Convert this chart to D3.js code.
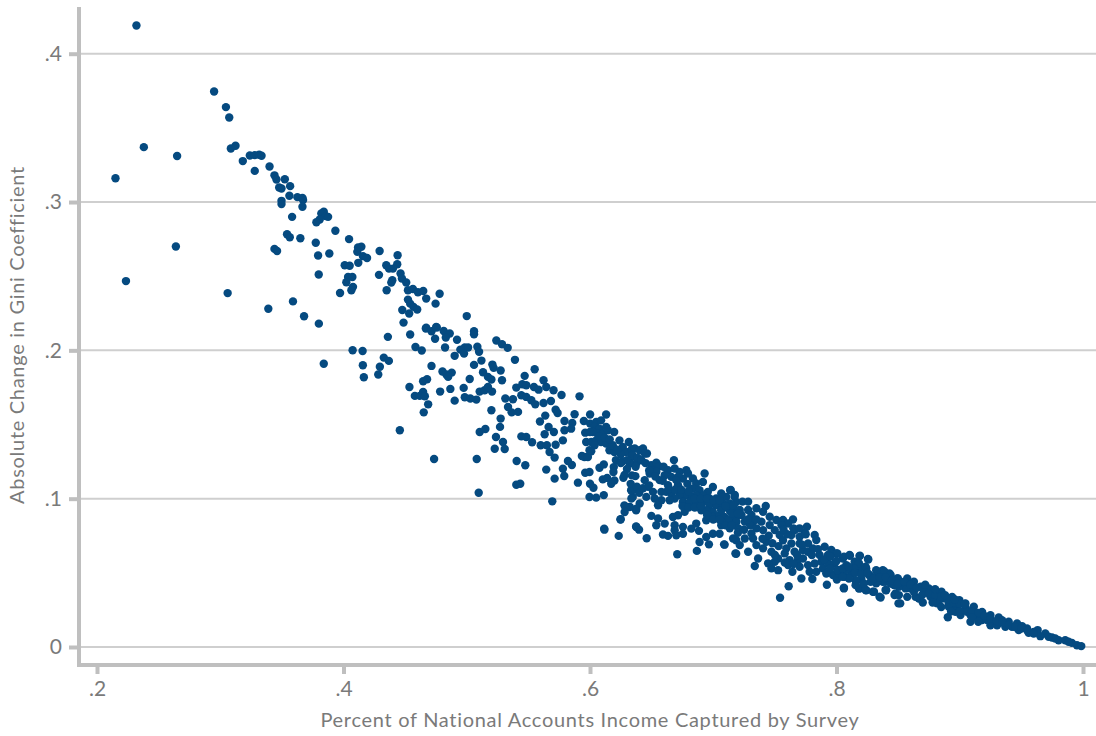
<!DOCTYPE html>
<html lang="en">
<head>
<meta charset="UTF-8">
<title>Gini change by survey coverage</title>
<script src="https://d3js.org/d3.v7.min.js"></script>
<style>
    body { margin: 0; background: #fff; font-family: Lato, "Open Sans", sans-serif; }
    svg { display: block; }
    .tick text { fill: #7a7a7a; font-size: 21px; font-family: Lato, "Open Sans", sans-serif; }
    .axis-label { fill: #7a7a7a; font-size: 20px; letter-spacing: 0.7px; }
</style>
</head>
<body>
<div id="chart"></div>
<script>
// tick labels
const xTicks = [0.2, 0.4, 0.6, 0.8, 1];
const yTicks = [0, 0.1, 0.2, 0.3, 0.4];
const xTitle = "Percent of National Accounts Income Captured by Survey";
const yTitle = "Absolute Change in Gini Coefficient";

// [share of national income captured by survey, absolute change in gini]
const points = [
[.232,.419],[.295,.3745],[.3046,.364],[.3073,.357],[.238,.337],[.265,.331],[.215,.316],[.264,.27],[.2235,.2467],[.306,.2386],
[.339,.228],[.359,.233],[.368,.223],[.38,.218],[.384,.191],
[.3086,.3361],[.3124,.3379],[.3183,.3276],[.324,.3314],[.328,.3316],[.3316,.3319],[.3335,.3312],[.328,.321],[.34,.324],[.344,.318],
[.3456,.3152],[.3524,.3154],[.3478,.3098],[.3497,.3091],[.3567,.3107],[.3561,.3042],[.3626,.3033],[.3667,.3028],[.3672,.3013],[.3497,.3008],
[.3497,.2986],[.3667,.2968],[.3583,.29],[.384,.2934],[.382,.2923],[.3856,.2905],[.3875,.29],[.3807,.2882],[.378,.2864],[.3934,.2806],
[.4045,.275],[.3542,.2783],[.3564,.2763],[.365,.2756],[.3775,.2725],[.344,.2684],[.3461,.267],[.3794,.2639],[.3885,.2653],[.4118,.2693],
[.4145,.2698],[.4112,.2664],[.4158,.2635],[.4191,.2623],[.412,.259],[.401,.2574],[.405,.257],[.4293,.267],[.4439,.2641],[.4347,.2574],
[.4369,.2551],[.4401,.2551],[.4436,.258],[.4288,.2509],[.4463,.2518],[.4474,.2484],[.4509,.2457],[.3799,.2511],[.4037,.2495],[.4072,.2495],
[.4023,.2459],[.4396,.2473],[.4388,.2457],[.4077,.2428],[.4064,.2405],[.3972,.2387],[.435,.2405],[.4523,.2405],[.4563,.2414],[.4604,.2392],
[.4647,.24],[.4671,.2349],[.4523,.2342],[.4541,.2315],[.4568,.2293],[.4598,.2275],[.4477,.2272],[.4533,.2248],[.4487,.2187],[.4747,.2315],
[.478,.2382],[.4671,.2153],[.4752,.2158],
[.5,.2231],[.5059,.2129],[.5059,.2109],[.4668,.2147],[.4714,.2129],[.4757,.2154],[.4813,.2131],[.4862,.2114],[.483,.2087],[.4743,.2078],
[.436,.2091],[.4541,.2107],[.4921,.2071],[.4584,.2023],[.4635,.1999],[.4824,.2019],[.4984,.2019],[.5011,.2019],[.4948,.2005],[.4978,.1978],
[.4902,.1963],[.5086,.2024],[.51,.199],[.524,.2066],[.5286,.2041],[.5332,.2017],[.5391,.1936],[.5119,.1931],[.5059,.1902],[.5208,.1904],
[.5218,.1882],[.5275,.1864],[.5132,.1852],[.5172,.1821],[.52,.1803],[.5286,.1798],[.4074,.2001],[.4155,.1996],[.4327,.1951],[.4368,.1929],
[.4157,.19],[.4295,.1889],[.4282,.1837],[.4165,.1819],[.4714,.1895],[.4803,.1857],[.4835,.1837],[.4878,.185],[.4849,.1821],[.5024,.1807],
[.4678,.1805],[.4646,.1792],[.4535,.1753],[.4784,.1722],[.4867,.174],[.4975,.1747],[.4646,.172],[.4579,.1693],[.4619,.1693],[.466,.1691],
[.4687,.1636],[.4651,.1582],[.4902,.1661],[.4984,.1684],[.5029,.1675],[.5078,.1668],[.5105,.1722],[.5145,.1731],[.5205,.1722],[.5172,.1753],
[.547,.1828],[.5402,.1749],[.5451,.1771],[.5483,.1765],[.5551,.1873],[.5623,.1798],[.5545,.1753],[.5583,.1735],[.5645,.1753],[.5704,.1731],
[.5769,.1699],[.5915,.169],[.5443,.1697],[.5483,.1686],[.5524,.1664],[.5556,.1636],[.5623,.1645],[.5683,.1659],[.5313,.1675],[.5375,.167],
[.5335,.1618],[.5364,.1582],[.5416,.1585],[.52,.1596],[.5721,.16],[.5737,.1578],[.5637,.156],[.5594,.152],[.5275,.154],[.527,.1484],
[.5875,.1569],[.5793,.1524],[.5856,.151],[.595,.1524],[.6001,.1567],[.6131,.1567],[.5664,.1483],[.5707,.145],[.5632,.1434],[.5793,.1461],
[.5847,.1472],[.5105,.145],[.5151,.147],[.5237,.1416],[.5294,.1382],[.5308,.1335],[.5227,.1337],[.5443,.142],[.5483,.1416],[.553,.138],
[.56,.136],[.565,.136],[.5721,.1364],[.578,.1393],[.5672,.1315],[.5713,.1277],[.4457,.1461],[.4735,.1267],[.5081,.1267],[.5405,.1254],
[.5475,.1225],[.5645,.1196],[.5821,.1254],[.5853,.1227],[.578,.1202],[.5791,.1153],[.5713,.1135],[.5402,.1094],[.5434,.1101],[.5097,.104],
[.5694,.0982],[.5961,.1175],[.5996,.118],[.5902,.1108],[.6,.1101],[.6028,.1074],[.5996,.1011],[.605,.1007],[.6112,.1024],[.6077,.1209],
[.6112,.1231],[.6193,.1213],[.619,.118],[.6104,.113],[.6139,.114],[.6198,.1123],[.6172,.1101],[.6271,.1141],[.6263,.1252],[.5955,.1281],
[.5934,.1288],[.5983,.1281],[.601,.1319],
[.5961,.1445],[.6001,.1506],[.605,.1517],[.609,.1528],[.6037,.1484],[.6077,.1472],[.6131,.1484],[.6063,.1439],[.6023,.145],[.6104,.1439],
[.6145,.1461],[.6196,.145],[.5969,.1382],[.601,.1382],[.605,.1393],[.609,.1382],[.6131,.1371],[.6037,.136],[.5996,.1326],[.6158,.1326],
[.6198,.1315],[.6185,.136],[.6239,.1393],[.6315,.1382],[.6266,.1348],[.6293,.1315],[.634,.1333],[.634,.1281],[.6374,.1236],[.634,.1157],
[.6334,.1056],[.6347,.1011],[.6279,.0955],[.632,.0943],[.6374,.0921],[.6247,.086],[.6115,.0797],[.6374,.0813],
[.6681,.126],[.643,.1338],[.6462,.1305],[.6363,.1338],[.6403,.1327],[.6344,.1293],[.6384,.1277],[.6417,.1259],[.6322,.1237],[.637,.1215],
[.6368,.1152],[.6444,.1305],[.6497,.1226],[.6538,.1242],[.656,.1219],[.6511,.1192],[.6484,.117],[.6538,.1181],[.6597,.1215],[.6633,.1192],
[.6687,.1203],[.6727,.1181],[.6781,.1192],[.6795,.117],[.6754,.1136],[.6714,.1147],[.666,.1147],[.6606,.1158],[.6565,.1125],[.6444,.1125],
[.6471,.108],[.6511,.1046],[.6579,.1046],[.6619,.1046],[.666,.1035],[.6714,.1091],[.67,.1125],[.6633,.1091],[.6835,.1136],[.6862,.1102],
[.6835,.1068],[.6889,.1057],[.693,.117],[.6916,.1113],[.6997,.1079],[.6956,.1046],[.7065,.1035],[.7137,.1057],[.7173,.1012],[.7105,.1012],
[.7024,.1001],[.697,.1001],[.6916,.1023],[.6862,.1023],[.6808,.1023],[.6768,.1023],[.6727,.1023],[.6687,.1001],[.6646,.0989],[.6579,.0989],
[.6754,.0978],[.6808,.0978],[.6862,.0967],[.6916,.0978],[.697,.0956],[.7024,.0956],[.7078,.0967],[.7132,.0967],[.7186,.0978],[.7186,.0922],
[.7132,.0922],[.7065,.0922],[.6997,.0911],[.6943,.0922],[.6903,.0922],[.6768,.0911],[.6714,.0888],[.6673,.0877],[.6457,.1012],[.6525,.1001],
[.6552,.0956],[.6403,.0967],[.6376,.0933],[.6322,.0945],[.6287,.0945],[.6281,.091],[.6498,.0884],[.6552,.0866],[.6606,.0832],[.6538,.0821],
[.6687,.0821],[.6754,.081],[.6687,.0787],[.6592,.0758],[.6633,.0749],[.67,.0753],[.6754,.0764],[.6822,.0798],[.6862,.0832],[.6943,.0854],
[.6997,.0877],[.7051,.0888],[.7091,.0877],[.7146,.0854],[.7186,.0877],[.7065,.0821],[.7051,.0764],[.6997,.0764],[.6943,.0742],[.6884,.0783],
[.6889,.0708],[.6965,.0692],[.7092,.069],[.7186,.072],[.7186,.0629],[.6867,.0648],[.6708,.0625],[.646,.0733],[.6376,.0809],[.6398,.0791],
[.6233,.0749],[.6117,.0791],[.6249,.0861],[.6336,.1057],[.6363,.1062],[.6336,.1001],
[.7142,.1059],[.7175,.1025],[.7237,.098],[.7283,.098],[.708,.1014],[.7107,.0946],[.7067,.0923],[.7161,.0957],[.7215,.0924],[.7283,.0924],
[.735,.0935],[.7426,.0951],[.7404,.0912],[.7458,.0878],[.7161,.089],[.7229,.089],[.731,.089],[.7323,.0845],[.7256,.0845],[.7188,.0845],
[.712,.0856],[.7067,.0845],[.7134,.08],[.7202,.08],[.7391,.0845],[.7404,.0788],[.7458,.0822],[.7512,.0856],[.7566,.0856],[.7647,.086],
[.7607,.0833],[.7553,.0822],[.7499,.0788],[.7539,.0755],[.7566,.072],[.7661,.0788],[.776,.0811],[.7742,.077],[.7701,.0743],[.7634,.0755],
[.7823,.0755],[.7836,.0721],[.7769,.0698],[.7701,.0698],[.7634,.0698],[.7593,.0665],[.758,.0631],[.766,.0642],[.7728,.0653],[.7769,.0642],
[.7809,.0665],[.7904,.0676],[.7958,.0654],[.7998,.0631],[.7931,.062],[.7863,.062],[.7877,.0575],[.7823,.0563],[.7769,.0552],[.7728,.0597],
[.7688,.0586],[.762,.0586],[.7607,.0552],[.7701,.0541],[.7642,.0507],[.7715,.0462],[.7804,.0458],[.7782,.0507],[.7836,.0507],[.789,.053],
[.7931,.0564],[.7985,.0564],[.8052,.0597],[.8106,.062],[.8187,.0613],[.8255,.0593],[.8147,.0575],[.808,.0552],[.8012,.0519],[.7971,.0485],
[.7917,.0496],[.8003,.0455],[.7922,.042],[.806,.0399],[.8111,.0298],[.8066,.0474],[.812,.0496],[.8187,.053],[.8241,.053],[.8268,.0485],
[.8201,.0462],[.816,.044],[.8187,.0395],[.8241,.0383],[.8295,.0372],[.8349,.0339],[.8322,.0429],[.8376,.044],[.8322,.0518],[.8376,.0518],
[.843,.0496],[.8403,.0383],[.8457,.0429],[.8471,.035],[.8503,.0294],[.8498,.0462],[.7088,.0692],[.718,.0631],[.7161,.0732],[.7256,.0732],
[.731,.0766],[.7323,.0732],[.7215,.0687],[.7283,.0642],[.735,.0687],[.7404,.0665],[.7431,.071],[.7472,.0642],[.7526,.0597],[.7499,.0575],
[.7445,.0564],[.7364,.0597],[.7337,.0546],[.7472,.053],[.7526,.0518],[.7612,.041],[.7542,.0332],
[.8007,.0631],[.8061,.0609],[.8109,.0615],[.819,.0615],[.8258,.059],[.8182,.0564],[.8236,.0541],[.8142,.053],[.8074,.0519],[.802,.0496],
[.8263,.0485],[.8331,.0507],[.839,.0507],[.8439,.0485],[.8493,.0462],[.8574,.0462],[.8628,.044],[.8331,.044],[.8398,.044],[.8466,.0417],
[.8547,.0417],[.8601,.0395],[.8682,.0406],[.8749,.0395],[.806,.0395],[.8182,.0395],[.8236,.0384],[.8304,.0372],[.8358,.0334],[.8398,.0384],
[.8479,.0361],[.8517,.0294],[.8641,.0338],[.8668,.0327],[.8709,.0372],[.8776,.035],[.8852,.0372],[.8816,.0294],[.8857,.0327],[.8938,.0338],
[.8911,.0294],[.8997,.0316],[.9046,.0294],[.8965,.0271],[.8903,.0201],[.9006,.0215],[.9087,.017],[.9114,.0271],[.906,.0237],[.9181,.0237],
[.9181,.0181],[.9249,.0215],[.9316,.0199],[.9249,.0147],[.9303,.0147],[.937,.0136],[.9397,.017],[.9465,.0158],[.9478,.0114],[.9546,.0125],
[.9559,.0096],[.9632,.0114],[.9694,.0091],[.9654,.0073],[.9748,.0064],[.9802,.0046],[.9856,.0046],[.991,.0028],[.9951,.0012],[.9986,.0006],
[.9883,.0035],[.9775,.0057],[.9721,.0069],[.96,.0102],[.9424,.0136],[.9222,.0181],[.9154,.0204],[.9087,.0215],[.8965,.0237],[.8911,.0271],
[.883,.0316],[.8763,.0338],[.8695,.035],[.8628,.0372],[.856,.0395],[.8506,.0406],[.8439,.0428],[.8385,.0462],[.8317,.0473],[.8277,.044],
[.8155,.0451],[.8101,.0462],[.8047,.0473],[.8007,.0519],[.8155,.0417],[.8223,.0428],[.8574,.0338],[.8506,.035],[.9343,.0181],[.9505,.0141],
// dense band, read from the solid mass
[.645,.124],[.648,.119],[.653,.115],[.659,.112],[.664,.1065],[.669,.106],[.674,.106],[.679,.11],[.68,.105],[.685,.1],
[.69,.1],[.695,.1],[.7,.099],[.705,.099],[.71,.095],[.715,.09],[.72,.09],[.675,.095],[.68,.094],[.685,.094],
[.69,.095],[.695,.089],[.7,.086],[.705,.086],[.71,.082],[.715,.082],[.72,.077],[.725,.079],[.73,.082],[.735,.08],
[.735,.086],[.728,.086],[.745,.075],[.74,.073],[.748,.07],[.753,.068],[.76,.076],[.757,.079],[.765,.08],[.77,.08],
[.775,.076],[.75,.062],[.758,.057],[.765,.056],[.768,.062],[.772,.069],[.78,.062],[.785,.066],[.79,.059],[.795,.061],
[.8,.058],[.795,.053],[.805,.053],[.81,.054],[.815,.05],[.82,.049],[.825,.05],[.83,.046],[.835,.047],[.84,.047],
[.845,.045],[.85,.043],[.855,.044],[.86,.042],[.865,.04],[.87,.04],[.875,.036],[.88,.035],[.885,.034],[.89,.032],
[.895,.03],[.9,.029],[.905,.026],[.91,.024],[.915,.023],[.92,.021],[.925,.019],[.93,.0175],[.935,.0165],[.94,.015],
[.945,.0135],[.95,.0125],[.955,.011],[.96,.009],[.872,.042],[.88,.039],[.888,.035],[.896,.032],[.904,.029],[.87,.03],
[.878,.03],[.885,.027],[.893,.024],[.9,.024],[.91,.02],[.915,.017],
[.625,.13],[.63,.126],[.622,.133],[.607,.142],[.6,.145],[.612,.141],[.616,.14],[.621,.126],[.625,.124],[.63,.12],
[.628,.116],[.633,.11],[.638,.108],[.64,.104],[.643,.107],[.648,.109]
];

const width = 1096, height = 736;
const axisColor = "#bfbfbf", gridColor = "#cfcfcf", dotColor = "#054a80";

const svg = d3.select("#chart").append("svg")
    .attr("width", width)
    .attr("height", height);

const x = d3.scaleLinear().domain([0.2, 1]).range([97, 1083]);
const y = d3.scaleLinear().domain([0, 0.4]).range([647, 53.7]);

// strip the leading zero like ".2"
const fmt = d => d === 0 || d === 1 ? String(d) : String(d).replace(/^0/, "");

// grid
svg.append("g").selectAll("line")
    .data(yTicks)
    .enter().append("line")
    .attr("x1", 81)
    .attr("x2", width)
    .attr("y1", d => y(d))
    .attr("y2", d => y(d))
    .attr("stroke", gridColor)
    .attr("stroke-width", 2);

// axes
const xAxis = svg.append("g")
    .attr("transform", "translate(0,665)")
    .call(d3.axisBottom(x).tickValues(xTicks).tickFormat(fmt).tickSize(9).tickPadding(7));
const yAxis = svg.append("g")
    .attr("transform", "translate(79,0)")
    .call(d3.axisLeft(y).tickValues(yTicks).tickFormat(fmt).tickSize(10).tickPadding(7));

xAxis.select(".domain").remove();
yAxis.select(".domain").remove();
svg.selectAll(".tick line").attr("stroke", axisColor).attr("stroke-width", 4);

svg.append("line").attr("x1", 79).attr("x2", 79).attr("y1", 7).attr("y2", 667)
    .attr("stroke", axisColor).attr("stroke-width", 4);
svg.append("line").attr("x1", 77).attr("x2", width).attr("y1", 665).attr("y2", 665)
    .attr("stroke", axisColor).attr("stroke-width", 4);

// axis titles
svg.append("text")
    .attr("class", "axis-label")
    .attr("x", 590)
    .attr("y", 727)
    .style("text-anchor", "middle")
    .text(xTitle);

svg.append("text")
    .attr("class", "axis-label")
    .attr("transform", "translate(24,335) rotate(-90)")
    .style("text-anchor", "middle")
    .text(yTitle);

// dots
svg.append("g").selectAll("circle")
    .data(points)
    .enter().append("circle")
    .attr("cx", d => x(d[0]))
    .attr("cy", d => y(d[1]))
    .attr("r", 4.2)
    .attr("fill", dotColor);
</script>
</body>
</html>
